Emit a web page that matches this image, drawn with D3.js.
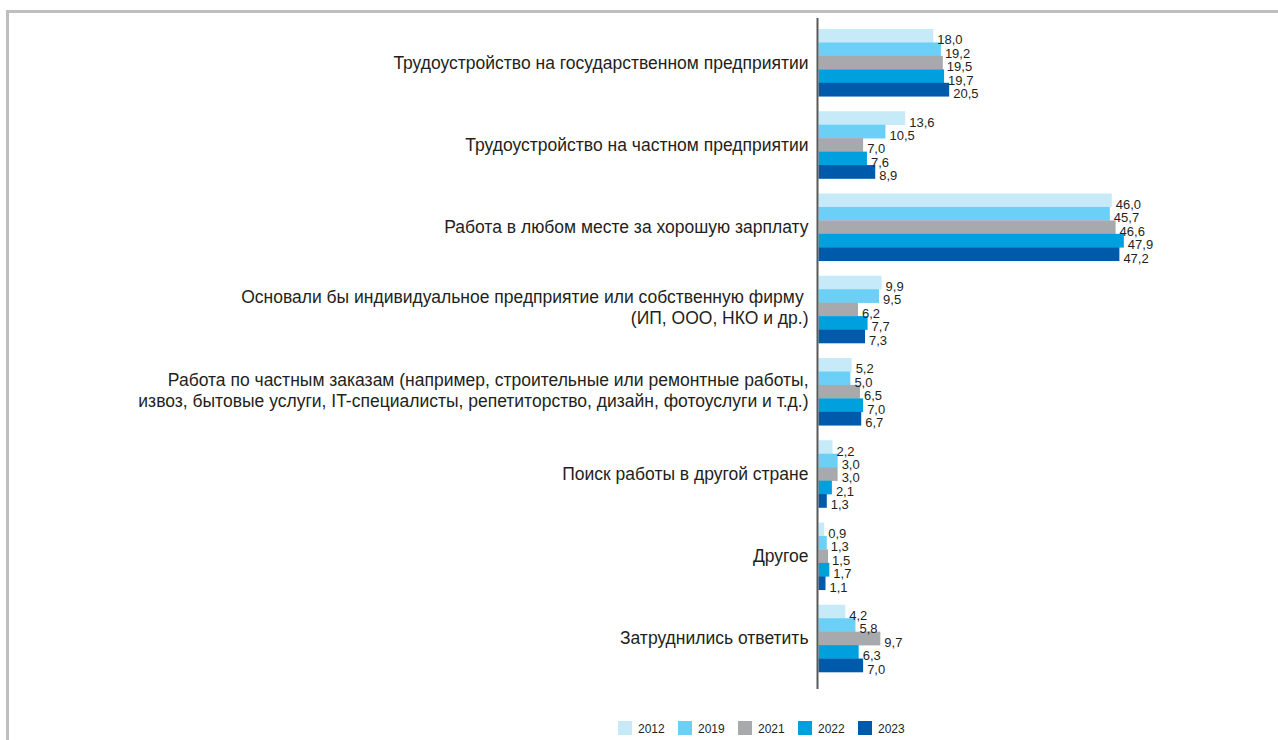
<!DOCTYPE html>
<html>
<head>
<meta charset="utf-8">
<script src="https://cdn.jsdelivr.net/npm/d3@7"></script>
<style>
  html, body { margin: 0; padding: 0; background: #fff; }
  svg { display: block; font-family: "Liberation Sans", Arial, sans-serif; }
</style>
</head>
<body>
<svg id="chart" width="1278" height="740"></svg>
<script>
const categories = [
  "Трудоустройство на государственном предприятии",
  "Трудоустройство на частном предприятии",
  "Работа в любом месте за хорошую зарплату",
  "Основали бы индивидуальное предприятие или собственную фирму \n(ИП, ООО, НКО и др.)",
  "Работа по частным заказам (например, строительные или ремонтные работы,\nизвоз, бытовые услуги, IT-специалисты, репетиторство, дизайн, фотоуслуги и т.д.)",
  "Поиск работы в другой стране",
  "Другое",
  "Затруднились ответить"
];
const years = ["2012", "2019", "2021", "2022", "2023"];
const values2012 = [18.0, 13.6, 46.0, 9.9, 5.2, 2.2, 0.9, 4.2];
const values2019 = [19.2, 10.5, 45.7, 9.5, 5.0, 3.0, 1.3, 5.8];
const values2021 = [19.5, 7.0, 46.6, 6.2, 6.5, 3.0, 1.5, 9.7];
const values2022 = [19.7, 7.6, 47.9, 7.7, 7.0, 2.1, 1.7, 6.3];
const values2023 = [20.5, 8.9, 47.2, 7.3, 6.7, 1.3, 1.1, 7.0];
const colors = ["#c7eaf9", "#6ccff6", "#a7a9ac", "#00a0df", "#005aab"];

const series = [values2012, values2019, values2021, values2022, values2023];

const svg = d3.select("#chart");

// frame
svg.append("rect").attr("x", 6).attr("y", 10).attr("width", 1272).attr("height", 3).attr("fill", "#bfbfbf");
svg.append("rect").attr("x", 6).attr("y", 10).attr("width", 3).attr("height", 730).attr("fill", "#bfbfbf");

const x = d3.scaleLinear().domain([0, 50]).range([818.5, 818.5 + 318.75]);
const y0 = d3.scaleBand().domain(categories).range([21.5, 679.5]).padding(0);
const y1 = d3.scaleBand().domain(years).range([7.5, y0.bandwidth() - 7.5]).padding(0);
const fmt = v => d3.format(".1f")(v).replace(".", ",");

const groups = svg.append("g").selectAll("g")
  .data(categories)
  .join("g")
  .attr("transform", d => `translate(0,${y0(d)})`);

groups.each(function(cat, ci) {
  const g = d3.select(this);
  years.forEach((yr, si) => {
    const v = series[si][ci];
    g.append("rect")
      .attr("x", x(0))
      .attr("y", y1(yr))
      .attr("width", x(v) - x(0))
      .attr("height", y1.bandwidth() + 0.3)
      .attr("fill", colors[si]);
  });
  years.forEach((yr, si) => {
    const v = series[si][ci];
    g.append("text")
      .attr("x", x(v) + 4)
      .attr("y", y1(yr) + y1.bandwidth() + 1.8)
      .attr("font-size", 13)
      .attr("fill", "#231f20")
      .text(fmt(v));
  });
  // category label
  const lines = cat.split("\n");
  const lh = 21;
  const cy = y0.bandwidth() / 2 + (lines.length > 1 ? -1.5 : 0);
  const t = g.append("text")
    .attr("text-anchor", "end")
    .attr("font-size", 17.5)
    .attr("fill", "#231f20")
    .style("white-space", "pre");
  lines.forEach((ln, i) => {
    t.append("tspan")
      .attr("x", 808.5)
      .attr("y", cy + 6 + (i - (lines.length - 1) / 2) * lh)
      .text(ln);
  });
});

// axis
const yAxis = d3.axisLeft(y0).tickSize(0).tickFormat("");
const ax = svg.append("g").attr("transform", `translate(${x(0) - 1},0)`).call(yAxis);
ax.select(".domain").remove();
svg.append("line")
  .attr("x1", x(0) - 1).attr("x2", x(0) - 1)
  .attr("y1", 18).attr("y2", 689)
  .attr("stroke", "#595959").attr("stroke-width", 2);

// legend
const legend = svg.append("g").selectAll("g")
  .data(years)
  .join("g")
  .attr("transform", (d, i) => `translate(${618 + i * 60},721)`);
legend.append("rect").attr("width", 14).attr("height", 14).attr("fill", (d, i) => colors[i]);
legend.append("text").attr("x", 20).attr("y", 12).attr("font-size", 12).attr("fill", "#231f20").text(d => d);
</script>
</body>
</html>
